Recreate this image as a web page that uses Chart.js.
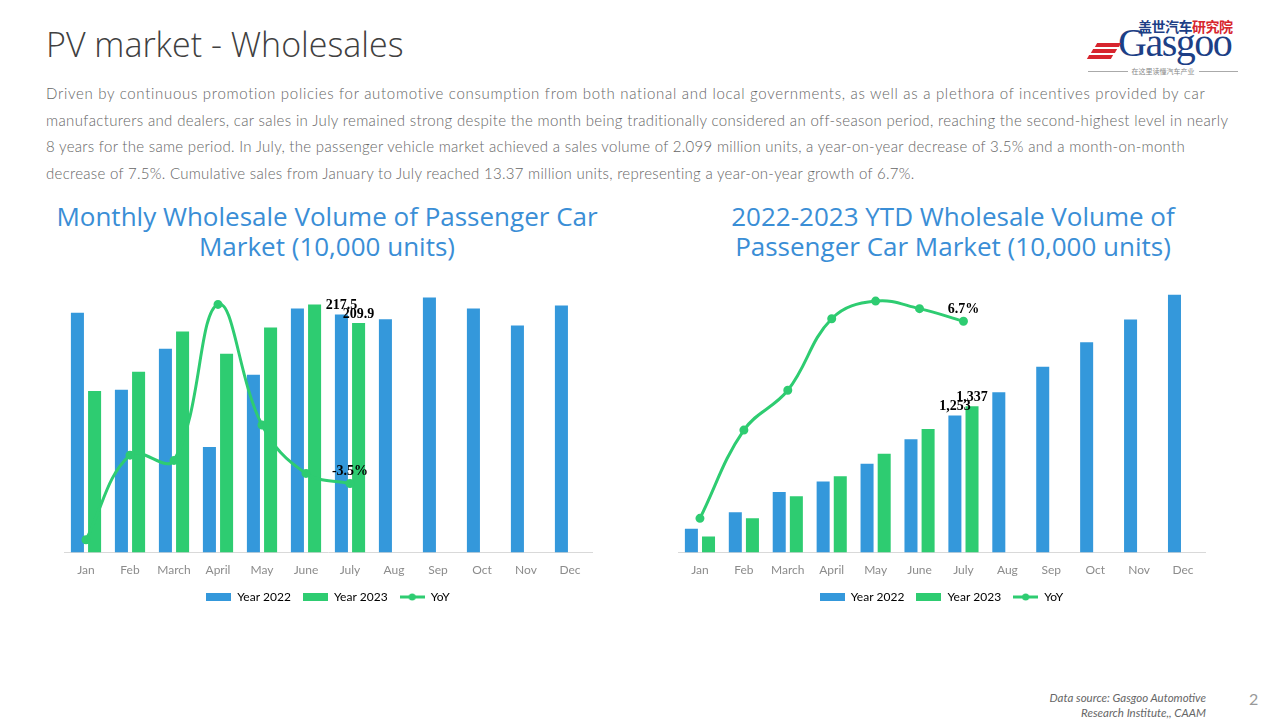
<!DOCTYPE html>
<html>
<head>
<meta charset="utf-8">
<title>PV market - Wholesales</title>
<script src="https://cdn.jsdelivr.net/npm/chart.js@4.4.0/dist/chart.umd.min.js"></script>
<style>
  body { margin: 0; width: 1280px; height: 720px; position: relative; overflow: hidden; background: #fff; font-family: Lato, "Open Sans", sans-serif; }
  .abs { position: absolute; }
  #heading { left: 46px; top: 22px; font-size: 34px; color: #404040; font-family: "Open Sans", Lato, sans-serif; font-weight: 300; white-space: nowrap; line-height: 44px; }
  #para { left: 46px; top: 80px; font-size: 15px; font-weight: 300; color: #666; line-height: 26.7px; }
  #para div { white-space: nowrap; display: block; }
  .title { font-family: "Open Sans", "Noto Sans", sans-serif; font-size: 26px; color: #3a8ed6; text-align: center; line-height: 30px; white-space: nowrap; }
  #title1 { left: 27px; width: 600px; top: 201px; }
  #title2 { left: 653px; width: 600px; top: 201px; }
  .box { position: absolute; }
  #box1 { left: 40px; top: 275px; width: 590px; height: 340px; }
  #box2 { left: 650px; top: 275px; width: 570px; height: 340px; }
  #source { right: 74px; top: 690px; font-size: 11.5px; font-style: italic; color: #666; text-align: right; line-height: 15px; }
  #page { left: 1249px; top: 689px; font-size: 16px; color: #999; }
  /* logo */
  #logo-cn { left: 1138px; top: 16px; font-family: "Noto Sans CJK SC"; font-weight: bold; font-size: 14px; color: #1d3f86; letter-spacing: -0.5px; }
  #logo-cn span { color: #d7252e; }
  #logo-en { left: 1118px; top: 19px; font-family: "Liberation Serif", serif; font-size: 40px; color: #1d3f86; letter-spacing: -1.5px; }
  .stripe { position: absolute; height: 4px; background: #d7252e; transform: skewX(-30deg); }
  #logo-tag { left: 1088px; top: 66px; width: 150px; font-family: "Noto Sans CJK SC"; font-size: 7px; color: #888; display: flex; align-items: center; gap: 4px; }
  #logo-tag i { flex: 1; height: 1px; background: #aaa; }
</style>
</head>
<body>

<div id="heading" class="abs">PV market - Wholesales</div>
<div id="para" class="abs">
  <div data-w="1161">Driven by continuous promotion policies for automotive consumption from both national and local governments, as well as a plethora of incentives provided by car</div>
  <div data-w="1182">manufacturers and dealers, car sales in July remained strong despite the month being traditionally considered an off-season period, reaching the second-highest level in nearly</div>
  <div data-w="1139">8 years for the same period. In July, the passenger vehicle market achieved a sales volume of 2.099 million units, a year-on-year decrease of 3.5% and a month-on-month</div>
  <div data-w="869">decrease of 7.5%. Cumulative sales from January to July reached 13.37 million units, representing a year-on-year growth of 6.7%.</div>
</div>

<div id="logo-cn" class="abs">盖世汽车<span>研究院</span></div>
<div id="logo-en" class="abs">Gasgoo</div>
<div class="stripe" style="left:1096px;top:43px;width:24px"></div>
<div class="stripe" style="left:1092px;top:49px;width:24px"></div>
<div class="stripe" style="left:1088px;top:55px;width:24px"></div>
<div id="logo-tag" class="abs"><i></i>在这里读懂汽车产业<i></i></div>

<div id="title1" class="abs title">Monthly Wholesale Volume of Passenger Car<br>Market (10,000 units)</div>
<div id="title2" class="abs title">2022-2023 YTD Wholesale Volume of<br>Passenger Car Market (10,000 units)</div>

<div id="box1" class="box"><canvas id="monthly_chart"></canvas></div>
<div id="box2" class="box"><canvas id="ytd_chart"></canvas></div>

<div id="source" class="abs">Data source: Gasgoo Automotive<br>Research Institute,, CAAM</div>
<div id="page" class="abs">2</div>

<script>
// data
var months = ['Jan', 'Feb', 'March', 'April', 'May', 'June', 'July', 'Aug', 'Sep', 'Oct', 'Nov', 'Dec']

var monthly_2022 = [219.2, 148.8, 186.4, 96.4, 162.5, 223.0, 217.5, 213.3, 233.2, 223.0, 207.5, 225.9]
var monthly_2023 = [147.7, 165.3, 202.0, 181.8, 205.7, 226.8, 209.9]
var monthly_yoy = [-32.4, 11.1, 8.4, 88.6, 26.6, 1.7, -3.5]

var ytd_2022 = [219, 368, 554, 650, 812, 1035, 1253, 1466, 1699, 1922, 2130, 2356]
var ytd_2023 = [148, 313, 515, 697, 903, 1130, 1337]
var ytd_yoy = [-32.4, -14.9, -7.0, 7.2, 10.7, 9.2, 6.7]

var blue = '#3498db'
var green = '#2ecc71'

// stretch the paragraph lines to the widths they have in the slide
document.querySelectorAll('#para div').forEach(function (line) {
  var target = +line.dataset.w
  line.style.display = 'inline-block'
  var w = line.getBoundingClientRect().width
  line.style.letterSpacing = ((target - w) / line.textContent.length) + 'px'
  line.style.display = 'block'
})

function legendIcon(color, isLine) {
  var c = document.createElement('canvas')
  c.width = 25
  c.height = 8
  var g = c.getContext('2d')
  g.fillStyle = color
  g.strokeStyle = color
  if (isLine) {
    g.lineWidth = 3
    g.beginPath(); g.moveTo(0, 4); g.lineTo(25, 4); g.stroke()
    g.beginPath(); g.arc(12.5, 4, 3.5, 0, Math.PI * 2); g.fill()
  } else {
    g.fillRect(0, 0, 25, 8)
  }
  return c
}

// black bold labels over the last points of a series
var valueLabels = {
  id: 'valueLabels',
  afterDatasetsDraw: function (chart) {
    var ctx = chart.ctx
    ctx.save()
    ctx.font = 'bold 14px "Liberation Serif"'
    ctx.fillStyle = '#000'
    ctx.textAlign = 'center'
    ctx.textBaseline = 'bottom'
    chart.data.datasets.forEach(function (ds, di) {
      if (ds.labelAt == null) return
      var el = chart.getDatasetMeta(di).data[ds.labelAt]
      ctx.fillText(ds.labelFmt(ds.data[ds.labelAt]), el.x, el.y - (ds.type == 'line' ? 5 : 2))
    })
    ctx.restore()
  }
}

function makeChart(id, bars22, bars23, yoy, yMax, y2Min, y2Max, fmt, padding) {
  return new Chart(document.getElementById(id), {
    type: 'bar',
    data: {
      labels: months,
      datasets: [
        { type: 'line', label: 'YoY', data: yoy, yAxisID: 'y2', order: 0,
          borderColor: green, backgroundColor: green, borderWidth: 3,
          pointRadius: 3, pointBackgroundColor: green, tension: 0.4,
          labelAt: yoy.length - 1, labelFmt: function (v) { return v + '%' } },
        { label: 'Year 2022', data: bars22, backgroundColor: blue, order: 1,
          barPercentage: 0.76, categoryPercentage: 0.78,
          labelAt: bars23.length - 1, labelFmt: fmt },
        { label: 'Year 2023', data: bars23, backgroundColor: green, order: 1,
          barPercentage: 0.76, categoryPercentage: 0.78,
          labelAt: bars23.length - 1, labelFmt: fmt }
      ]
    },
    options: {
      responsive: true,
      maintainAspectRatio: false,
      animation: false,
      layout: { padding: padding },
      plugins: {
        tooltip: { enabled: false },
        legend: {
          position: 'bottom',
          labels: {
            usePointStyle: true,
            pointStyleWidth: 25,
            boxHeight: 8,
            padding: 12,
            color: '#404040',
            font: { family: 'Lato', size: 12 },
            generateLabels: function (chart) {
              return [
                { text: 'Year 2022', pointStyle: legendIcon(blue, false), fillStyle: blue, strokeStyle: blue, lineWidth: 0, datasetIndex: 1 },
                { text: 'Year 2023', pointStyle: legendIcon(green, false), fillStyle: green, strokeStyle: green, lineWidth: 0, datasetIndex: 2 },
                { text: 'YoY', pointStyle: legendIcon(green, true), fillStyle: green, strokeStyle: green, lineWidth: 0, datasetIndex: 0 }
              ]
            }
          }
        }
      },
      scales: {
        x: {
          offset: true,
          grid: { display: false, drawTicks: false },
          border: { color: '#d9d9d9', width: 1 },
          ticks: { color: '#8c8c8c', padding: 10, font: { family: 'Lato', size: 12 } },
          // let the plot reach further down, the legend keeps its place
          afterFit: function (axis) { axis.height -= 8 }
        },
        y: { display: false, min: 0, max: yMax },
        y2: { display: false, position: 'right', min: y2Min, max: y2Max }
      }
    },
    plugins: [valueLabels]
  })
}

var monthly_chart = makeChart('monthly_chart', monthly_2022, monthly_2023, monthly_yoy, 240, -39, 96,
  function (v) { return v.toFixed(1) }, { left: 24, right: 38, top: 15, bottom: 2 })

var ytd_chart = makeChart('ytd_chart', ytd_2022, ytd_2023, ytd_yoy, 2400, -39.2, 12.9,
  function (v) { return v.toLocaleString('en-US') }, { left: 28, right: 15, top: 15, bottom: 2 })
</script>
</body>
</html>
